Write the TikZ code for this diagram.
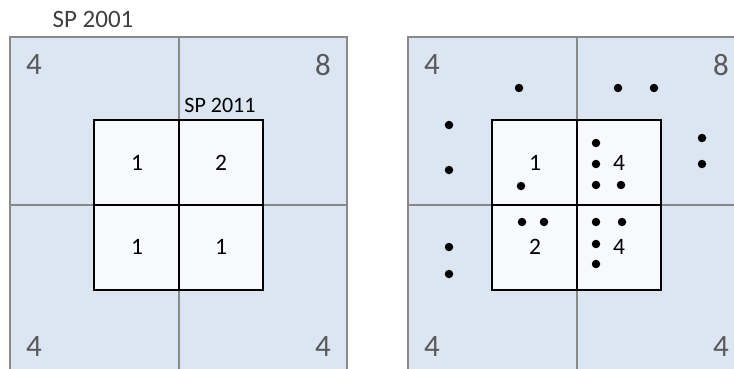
\documentclass[tikz,border=0pt]{standalone}
\usepackage{fontspec}
\setmainfont{Carlito}
\usepackage{xcolor}
\definecolor{cellBlue}{RGB}{220,230,242}
\definecolor{cellWhite}{RGB}{247,249,252}
\definecolor{gridGrey}{RGB}{137,137,137}
\definecolor{countGrey}{RGB}{89,89,89}
\definecolor{tagGrey}{RGB}{64,64,64}

\begin{document}
\begin{tikzpicture}[x=1pt, y=-1pt,
    coarse/.style={draw=gridGrey, line width=1.6pt, fill=cellBlue},
    coarseline/.style={draw=gridGrey, line width=1.6pt},
    fine/.style={draw=black, line width=2pt, fill=cellWhite},
    fineline/.style={draw=black, line width=2pt},
    bigcount/.style={inner sep=0pt, text=countGrey, font=\fontsize{31}{31}\selectfont},
    smallcount/.style={inner sep=0pt, font=\fontsize{23.5}{23.5}\selectfont},
    sptag/.style={inner sep=0pt},
    spot/.style={circle, fill=black, inner sep=0pt, minimum size=8.5pt}
]
    \useasboundingbox (0,0) rectangle (734,369);
    \clip (0,0) rectangle (734,369);

    % two panels: coarse grid with fine grid on top
    \foreach \dx/\p/\ca/\cb/\cc/\cd in {0/L/1/2/1/1, 398/R/1/4/2/4} {
        \begin{scope}[shift={(\dx,0)}]
            \filldraw[coarse] (10,37) rectangle (347,373);
            \draw[coarseline] (179,37) -- (179,373);
            \draw[coarseline] (10,205) -- (347,205);
            \filldraw[fine] (94,120) rectangle (263,290);
            \draw[fineline] (179,120) -- (179,290);
            \draw[fineline] (94,205) -- (263,205);

            \node[bigcount] (\p-nw) at (34,65) {4};
            \node[bigcount] (\p-ne) at (323,65) {8};
            \node[bigcount] (\p-sw) at (34,347) {4};
            \node[bigcount] (\p-se) at (323,347) {4};

            \node[smallcount] (\p-a) at (137,163) {\ca};
            \node[smallcount] (\p-b) at (221,163) {\cb};
            \node[smallcount] (\p-c) at (137,247) {\cc};
            \node[smallcount] (\p-d) at (221,247) {\cd};
        \end{scope}
    }

    \node[sptag, text=tagGrey, font=\fontsize{25}{25}\selectfont] (sp2001) at (93,19.5) {SP 2001};
    \node[sptag, font=\fontsize{22}{22}\selectfont] (sp2011) at (220,105) {SP 2011};

    % points in the right panel
    \foreach \x/\y [count=\i] in {519/88, 618/88, 654/88, 449/125, 449/170,
        521/186, 596/143, 596/164, 596/185, 621/185, 702/138, 702/164,
        522/222, 544/222, 596/222, 622/222, 596/244, 596/264, 449/247, 449/274}
        \node[spot] (dot\i) at (\x,\y) {};
\end{tikzpicture}
\end{document}
